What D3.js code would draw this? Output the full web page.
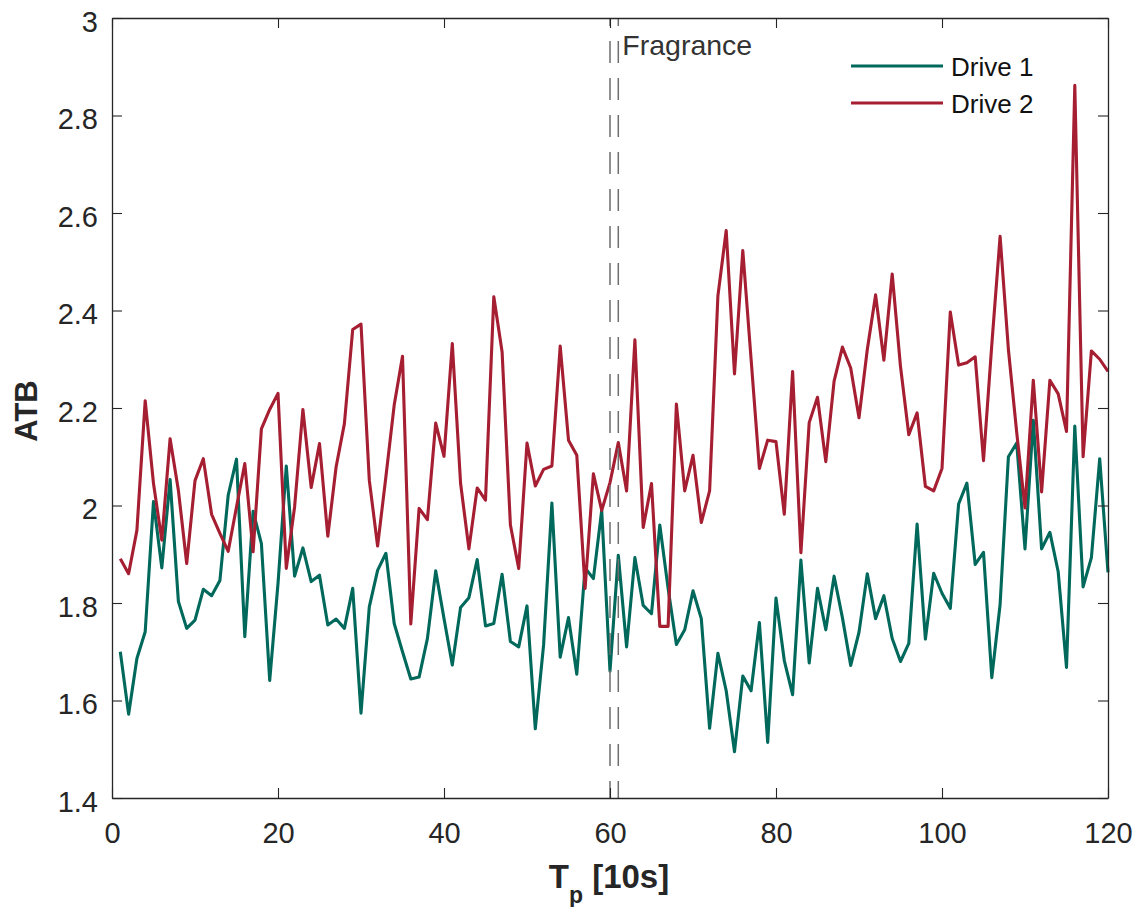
<!DOCTYPE html>
<meta charset="utf-8">
<script src="https://d3js.org/d3.v7.min.js"></script>
<style>
  body { margin: 0; background: #fff; }
  text { font-family: "Liberation Sans", Arial, Helvetica, sans-serif; }
</style>
<div id="atb_chart"></div>

<script>
// ATB per 10s window, two drives
var tp = d3.range(1, 121);

var drive1 = [
  1.700, 1.572, 1.686, 1.741, 2.008, 1.872, 2.053, 1.803, 1.748, 1.765,
  1.828, 1.815, 1.846, 2.021, 2.095, 1.731, 1.988, 1.922, 1.641, 1.840,
  2.081, 1.855, 1.913, 1.844, 1.857, 1.755, 1.767, 1.748, 1.830, 1.574,
  1.792, 1.867, 1.902, 1.758, 1.700, 1.644, 1.648, 1.727, 1.866, 1.768,
  1.673, 1.791, 1.811, 1.889, 1.753, 1.758, 1.859, 1.721, 1.710, 1.794,
  1.542, 1.714, 2.005, 1.689, 1.770, 1.654, 1.872, 1.850, 1.990, 1.660,
  1.898, 1.710, 1.893, 1.795, 1.778, 1.960, 1.830, 1.715, 1.745, 1.825,
  1.768, 1.543, 1.697, 1.620, 1.495, 1.650, 1.620, 1.760, 1.514, 1.810,
  1.682, 1.612, 1.888, 1.677, 1.830, 1.745, 1.855, 1.770, 1.672, 1.740,
  1.860, 1.768, 1.815, 1.727, 1.680, 1.717, 1.962, 1.726, 1.861, 1.820,
  1.789, 2.003, 2.046, 1.879, 1.904, 1.647, 1.797, 2.100, 2.128, 1.911,
  2.175, 1.911, 1.945, 1.864, 1.668, 2.163, 1.833, 1.893, 2.096, 1.863
];

var drive2 = [
  1.891, 1.860, 1.949, 2.215, 2.045, 1.929, 2.137, 2.031, 1.881, 2.051,
  2.096, 1.982, 1.943, 1.906, 1.997, 2.086, 1.905, 2.157, 2.197, 2.230,
  1.871, 1.997, 2.197, 2.037, 2.127, 1.937, 2.079, 2.168, 2.361, 2.372,
  2.052, 1.917, 2.059, 2.206, 2.306, 1.757, 1.994, 1.971, 2.169, 2.101,
  2.332, 2.045, 1.911, 2.036, 2.011, 2.428, 2.315, 1.960, 1.871, 2.128,
  2.040, 2.074, 2.081, 2.327, 2.134, 2.103, 1.830, 2.065, 1.990, 2.047,
  2.129, 2.030, 2.340, 1.955, 2.045, 1.752, 1.752, 2.208, 2.030, 2.103,
  1.965, 2.030, 2.430, 2.564, 2.270, 2.523, 2.300, 2.076, 2.134, 2.131,
  1.982, 2.275, 1.903, 2.170, 2.222, 2.090, 2.255, 2.325, 2.282, 2.180,
  2.320, 2.432, 2.298, 2.475, 2.285, 2.145, 2.190, 2.039, 2.030, 2.076,
  2.397, 2.288, 2.293, 2.305, 2.092, 2.330, 2.552, 2.320, 2.150, 1.995,
  2.257, 2.028, 2.257, 2.229, 2.152, 2.862, 2.100, 2.317, 2.300, 2.275
];

var seriesNames = ["Drive 1", "Drive 2"];
var seriesColors = ["#00695c", "#a51e31"];

var xTicks = [0, 20, 40, 60, 80, 100, 120];
var yTicks = [1.4, 1.6, 1.8, 2, 2.2, 2.4, 2.6, 2.8, 3];
var yTickLabels = ["1.4", "1.6", "1.8", "2", "2.2", "2.4", "2.6", "2.8", "3"];

// event marker (two dashed lines) and its label
var eventTimes = [60, 61];
var eventLabel = "Fragrance";

// set the dimensions and margins of the graph
var margin = {top: 18, right: 29, bottom: 109, left: 112},
    width = 1137 - margin.left - margin.right,
    height = 907 - margin.top - margin.bottom;

var axisColor = "#262626";

var svg = d3.select("#atb_chart")
  .append("svg")
    .attr("width", width + margin.left + margin.right)
    .attr("height", height + margin.top + margin.bottom)
  .append("g")
    .attr("transform", "translate(" + margin.left + "," + margin.top + ")");

var x = d3.scaleLinear().domain([0, 120]).range([0, width]);
var y = d3.scaleLinear().domain([1.4, 3]).range([height, 0]);

// data lines
var line = d3.line()
  .x(function(d, i) { return x(tp[i]); })
  .y(function(d) { return y(d); });

[drive1, drive2].forEach(function(s, k) {
  svg.append("path")
    .datum(s)
    .attr("fill", "none")
    .attr("stroke", seriesColors[k])
    .attr("stroke-width", 3.1)
    .attr("stroke-linejoin", "round")
    .attr("d", line);
});

// dashed event lines
svg.selectAll("eventline")
  .data(eventTimes)
  .enter()
  .append("line")
    .attr("x1", function(d) { return x(d); })
    .attr("x2", function(d) { return x(d); })
    .attr("y1", 0)
    .attr("y2", height)
    .attr("stroke", "#6e6e6e")
    .attr("stroke-width", 1.5)
    .attr("stroke-dasharray", "22,15")
    .attr("stroke-dashoffset", 14);

svg.append("text")
  .attr("x", x(eventTimes[1]) + 4)
  .attr("y", 37)
  .attr("font-size", 28.5)
  .attr("fill", "#333")
  .text(eventLabel);

// axes box with inward ticks on all sides
var tickLen = 10;
var bottomAxis = d3.axisBottom(x).tickValues(xTicks).tickSizeInner(-tickLen).tickSizeOuter(0).tickPadding(20);
var topAxis = d3.axisTop(x).tickValues(xTicks).tickSizeInner(-tickLen).tickSizeOuter(0).tickFormat("");
var leftAxis = d3.axisLeft(y).tickValues(yTicks).tickSizeInner(-tickLen).tickSizeOuter(0).tickPadding(14)
  .tickFormat(function(d, i) { return yTickLabels[i]; });
var rightAxis = d3.axisRight(y).tickValues(yTicks).tickSizeInner(-tickLen).tickSizeOuter(0).tickFormat("");

var gx = svg.append("g").attr("transform", "translate(0," + height + ")").call(bottomAxis);
var gt = svg.append("g").call(topAxis);
var gy = svg.append("g").call(leftAxis);
var gr = svg.append("g").attr("transform", "translate(" + width + ",0)").call(rightAxis);

[gx, gt, gy, gr].forEach(function(g) {
  g.select(".domain").attr("stroke", axisColor).attr("stroke-width", 1.3);
  g.selectAll(".tick line").attr("stroke", axisColor).attr("stroke-width", 1.1);
  g.selectAll(".tick text")
    .attr("fill", axisColor)
    .attr("font-size", 29)
    .attr("font-family", "\"Liberation Sans\", Arial, Helvetica, sans-serif");
});
gx.selectAll(".tick text").attr("dy", null).attr("y", 45).attr("dominant-baseline", "alphabetic");
gy.selectAll(".tick text").attr("dy", null).attr("y", 13).attr("dominant-baseline", "alphabetic");

// axis titles
var xl = svg.append("text")
  .attr("text-anchor", "middle")
  .attr("x", width / 2 - 1)
  .attr("y", 888 - margin.top)
  .attr("font-size", 33)
  .attr("font-weight", "bold")
  .attr("fill", axisColor);
xl.append("tspan").text("T");
xl.append("tspan").attr("font-size", 23).attr("dy", 15).text("p");
xl.append("tspan").attr("dy", -15).text(" [10s]");

svg.append("text")
  .attr("text-anchor", "middle")
  .attr("transform", "translate(" + (37 - margin.left) + "," + (411 - margin.top) + ") rotate(-90)")
  .attr("font-size", 31)
  .attr("font-weight", "bold")
  .attr("fill", axisColor)
  .text("ATB");

// legend
var legendX = 851 - margin.left, legendY = [66 - margin.top, 103 - margin.top];
svg.selectAll("legline")
  .data(seriesNames)
  .enter()
  .append("line")
    .attr("x1", legendX)
    .attr("x2", legendX + 92)
    .attr("y1", function(d, i) { return legendY[i]; })
    .attr("y2", function(d, i) { return legendY[i]; })
    .attr("stroke", function(d, i) { return seriesColors[i]; })
    .attr("stroke-width", 3.1);

svg.selectAll("leglabel")
  .data(seriesNames)
  .enter()
  .append("text")
    .attr("x", legendX + 100)
    .attr("y", function(d, i) { return legendY[i] + 10; })
    .attr("font-size", 26)
    .attr("fill", "#111")
    .text(function(d) { return d; });
</script>
